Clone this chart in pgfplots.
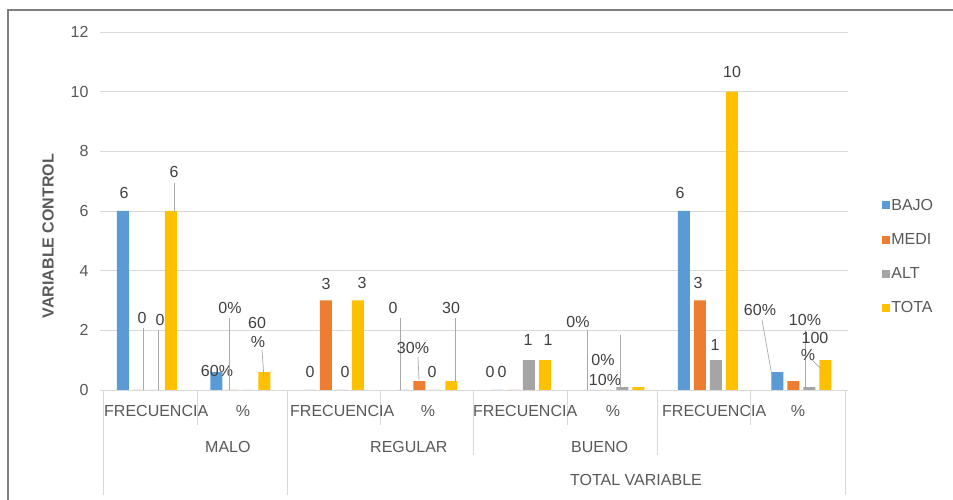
\documentclass[border=0pt]{standalone}
\usepackage{fontspec}
\setmainfont{Liberation Sans}
\usepackage{pgfplots}
\pgfplotsset{compat=1.18}
\definecolor{cbajo}{HTML}{5B9BD5}
\definecolor{cmedi}{HTML}{ED7D31}
\definecolor{calt}{HTML}{A5A5A5}
\definecolor{ctota}{HTML}{FFC000}
\definecolor{txt}{HTML}{595959}
\definecolor{lbl}{HTML}{404040}
\definecolor{gridc}{HTML}{D9D9D9}
\newcommand{\fs}{\fontsize{16}{19}\selectfont}
\newcommand{\lab}[3]{\node[lbl,inner sep=0pt] at (#1,{500-#2}) {#3};}
\newcommand{\lead}[4]{\draw[line width=0.7pt,color=lbl!45] (#1,{500-#2}) -- (#3,{500-#4});}
\begin{document}
\begin{tikzpicture}[x=1pt,y=1pt,font=\fs]
\path[use as bounding box] (0,0) rectangle (953,500);
\fill[white] (0,0) rectangle (953,500);
\draw[color=gray, line width=1.6pt] (8,-5) -- (8,490) -- (960,490);
\begin{axis}[
  at={(100pt,110pt)}, anchor=south west,
  scale only axis, width=748pt, height=358pt,
  xmin=-0.5, xmax=7.5, ymin=0, ymax=12,
  ytick={0,2,...,12}, xtick=\empty,
  ymajorgrids, grid style={color=gridc, line width=0.8pt},
  axis line style={draw=none}, major tick length=0pt,
  yticklabel style={color=txt, font=\fs, xshift=-8pt},
  /pgf/number format/assume math mode=true,
  clip=false,
  legend style={at={(1.045,0.538)}, anchor=north west, draw=none, fill=none,
    font=\fs, text=txt, row sep=18.5pt, inner sep=0pt, nodes={inner sep=1.5pt}},
  legend cell align=left,
]
\addplot[ybar, bar width=12pt, bar shift=-24pt, fill=cbajo, draw=none,
  legend image code/.code={\fill[cbajo] (0pt,-4pt) rectangle (8pt,4pt);}]
  coordinates {(0,6) (1,0.6) (2,0) (3,0) (4,0) (5,0) (6,6) (7,0.6)};
\addlegendentry{BAJO}
\addplot[ybar, bar width=12pt, bar shift=-8pt, fill=cmedi, draw=none,
  legend image code/.code={\fill[cmedi] (0pt,-4pt) rectangle (8pt,4pt);}]
  coordinates {(0,0) (1,0) (2,3) (3,0.3) (4,0) (5,0) (6,3) (7,0.3)};
\addlegendentry{MEDI}
\addplot[ybar, bar width=12pt, bar shift=8pt, fill=calt, draw=none,
  legend image code/.code={\fill[calt] (0pt,-4pt) rectangle (8pt,4pt);}]
  coordinates {(0,0) (1,0) (2,0) (3,0) (4,1) (5,0.1) (6,1) (7,0.1)};
\addlegendentry{ALT}
\addplot[ybar, bar width=12pt, bar shift=24pt, fill=ctota, draw=none,
  legend image code/.code={\fill[ctota] (0pt,-4pt) rectangle (8pt,4pt);}]
  coordinates {(0,6) (1,0.6) (2,3) (3,0.3) (4,1) (5,0.1) (6,10) (7,1)};
\addlegendentry{TOTA}
\end{axis}
% data labels
\lab{124}{193}{6}
\lab{142}{318}{0}\lead{143}{328}{143}{390}
\lab{160}{320}{0}\lead{158}{330}{158}{390}
\lab{174}{172}{6}\lead{174}{183}{174}{212}
\lab{217}{371}{60\%}
\lab{230}{308}{0\%}\lead{229}{318}{229}{390}
\lab{257}{323}{60}\lab{258}{342}{\%}\lead{262}{350}{264}{378}
\lab{310}{372}{0}\lab{326}{284}{3}\lab{345}{372}{0}\lab{362}{283}{3}
\lab{393}{308}{0}\lead{400}{318}{400}{390}
\lab{413}{348}{30\%}\lead{418}{357}{419}{380}
\lab{432}{372}{0}
\lab{451}{308}{30}\lead{455}{318}{455}{382}
\lab{490}{372}{0}\lab{502}{372}{0}\lab{528}{340}{1}\lab{548}{340}{1}
\lab{578}{322}{0\%}\lead{587}{330}{587}{390}
\lab{603}{360}{0\%}\lab{605}{380}{10\%}\lead{620}{335}{620}{390}
\lab{680}{193}{6}\lab{698}{283}{3}\lab{715}{345}{1}\lab{732}{72}{10}
\lab{760}{310}{60\%}\lead{762}{320}{772}{376}
\lab{805}{320}{10\%}\lead{805}{330}{805}{388}
\lab{815}{338}{100}\lab{808}{355}{\%}\lead{812}{360}{820}{368}
% category axis lines
\begin{scope}[color=gridc, line width=0.8pt]
\draw (103,110) -- (103,5);
\draw (287,110) -- (287,5);
\draw (845,110) -- (845,5);
\draw (473,110) -- (473,45);
\draw (657,110) -- (657,45);
\draw (197,110) -- (197,75);
\draw (380,110) -- (380,75);
\draw (567,110) -- (567,75);
\draw (750,110) -- (750,75);
\end{scope}
% category labels
\begin{scope}[every node/.style={color=txt, inner sep=0pt}]
\node[anchor=west] at (104,89) {FRECUENCIA};
\node[anchor=west] at (290,89) {FRECUENCIA};
\node[anchor=west] at (473,89) {FRECUENCIA};
\node[anchor=west] at (662,89) {FRECUENCIA};
\node at (243,89) {\%};
\node at (428,89) {\%};
\node at (613,89) {\%};
\node at (798,89) {\%};
\node[anchor=west] at (205,53) {MALO};
\node[anchor=west] at (370,53) {REGULAR};
\node[anchor=west] at (571,53) {BUENO};
\node[anchor=west] at (570,20) {TOTAL VARIABLE};
\node[rotate=90, font=\fs\bfseries] at (48,{500-236}) {VARIABLE CONTROL};
\end{scope}
\end{tikzpicture}
\end{document}
